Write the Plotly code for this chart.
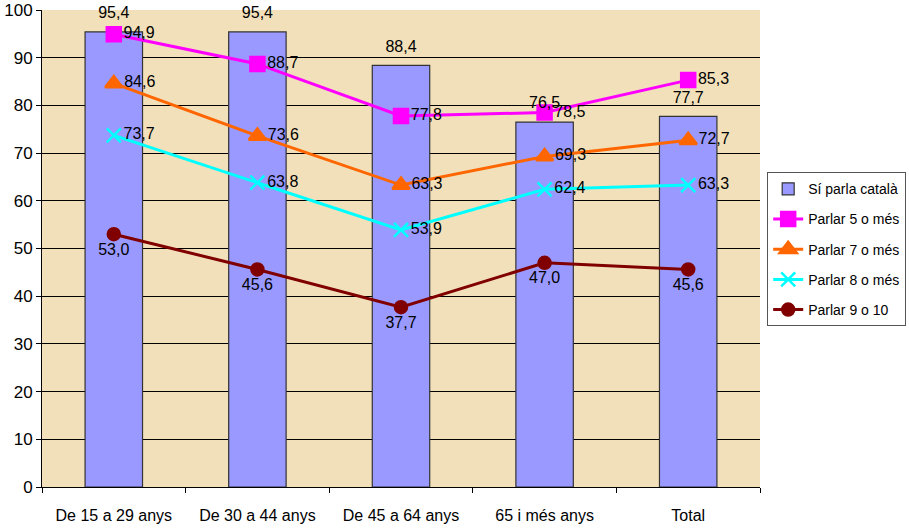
import plotly.graph_objects as go

categories = ["De 15 a 29 anys", "De 30 a 44 anys", "De 45 a 64 anys", "65 i més anys", "Total"]
parla_catala = [95.4, 95.4, 88.4, 76.5, 77.7]
parlar_5 = [94.9, 88.7, 77.8, 78.5, 85.3]
parlar_7 = [84.6, 73.6, 63.3, 69.3, 72.7]
parlar_8 = [73.7, 63.8, 53.9, 62.4, 63.3]
parlar_9 = [53.0, 45.6, 37.7, 47.0, 45.6]

FONT = "Liberation Sans Narrow, Arial Narrow, Liberation Sans, Arial, sans-serif"
LABEL = dict(family=FONT, size=16, color="black")

fig = go.Figure()

fig.add_trace(go.Bar(
    x=categories, y=parla_catala, name="Sí parla català",
    marker=dict(color="#9999FF", line=dict(color="#333333", width=1.2)),
    width=0.4, legendgroup="g0",
))

lines = [
    ("Parlar 5 o més", parlar_5, "#FF00FF", "square", 14, "middle right"),
    ("Parlar 7 o més", parlar_7, "#FF6600", "triangle-up", 15, "middle right"),
    ("Parlar 8 o més", parlar_8, "#00FFFF", "x-thin", 14, "middle right"),
    ("Parlar 9 o 10", parlar_9, "#800000", "circle", 12, "bottom center"),
]
for i, (name, vals, color, sym, size, pos) in enumerate(lines, start=1):
    fig.add_trace(go.Scatter(
        x=categories, y=vals, name=name, mode="lines+markers+text",
        legendgroup=f"g{i}",
        line=dict(color=color, width=3),
        marker=dict(symbol=sym, size=size, color=color,
                    line=dict(color=color, width=2.5)),
        text=vals, texttemplate="%{y:.1f}", textposition=pos,
        textfont=LABEL, cliponaxis=False,
    ))

# value labels sitting above the bars
fig.add_trace(go.Scatter(
    x=categories, y=parla_catala, mode="markers+text",
    marker=dict(size=14, opacity=0), showlegend=False, hoverinfo="skip",
    text=parla_catala, texttemplate="%{y:.1f}", textposition="top center",
    textfont=LABEL, cliponaxis=False,
))

fig.update_layout(
    width=909, height=528,
    margin=dict(l=42, r=149, t=10, b=41, autoexpand=False),
    paper_bgcolor="white",
    plot_bgcolor="#F2E0BA",
    separators=",.",
    showlegend=True,
    font=dict(family=FONT, size=15, color="black"),
    legend=dict(
        x=1.01, y=0.66, xanchor="left", yanchor="top",
        bgcolor="white", bordercolor="#555555", borderwidth=1,
        font=dict(family=FONT, size=14, color="black"),
        tracegroupgap=9, itemwidth=30,
    ),
    bargap=0.6,
)

fig.update_xaxes(
    type="category", tickson="boundaries", ticks="outside", ticklen=5,
    tickcolor="black", showline=True, linecolor="black", linewidth=1,
    showgrid=False, tickfont=dict(family=FONT, size=16),
    ticklabelstandoff=14, automargin=False,
)
fig.update_yaxes(
    range=[0, 100], dtick=10, ticks="outside", ticklen=5, tickcolor="black",
    showline=True, linecolor="black", linewidth=1,
    showgrid=True, gridcolor="black", gridwidth=1,
    tickfont=dict(family=FONT, size=17), zeroline=False, automargin=False,
)

fig.write_html("out.html")
